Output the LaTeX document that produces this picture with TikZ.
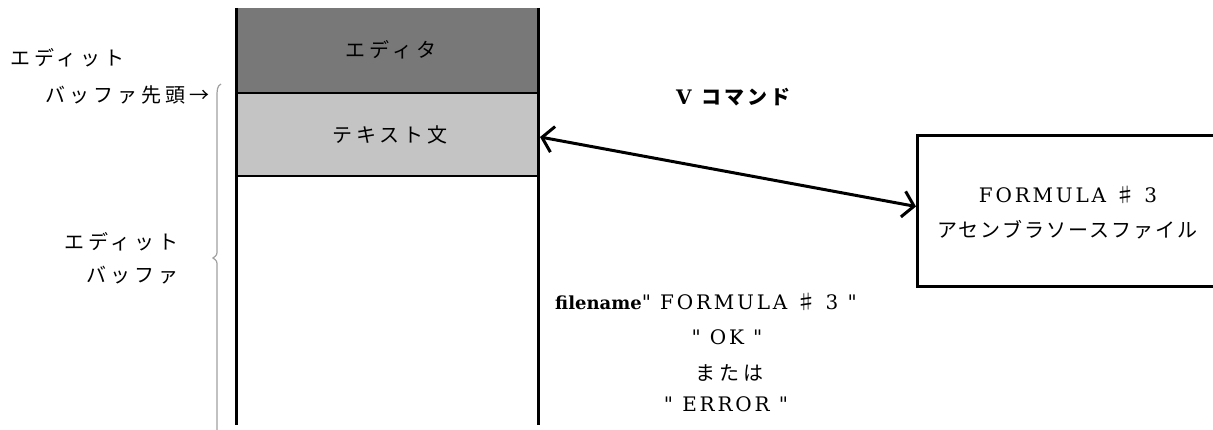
\documentclass[tikz,border=0pt]{standalone}
\usepackage{fontspec}
\setmainfont{DejaVu Serif}
\newfontfamily\jp[LetterSpace=20,BoldFont=* Bold]{Noto Sans CJK JP}
\newfontfamily\jpn[LetterSpace=10]{Noto Sans CJK JP}
\newfontfamily\jpb[LetterSpace=15]{Noto Sans CJK JP Bold}
\newfontfamily\lat[LetterSpace=14]{DejaVu Serif}
\usetikzlibrary{arrows.meta}
\definecolor{editgray}{HTML}{787878}
\definecolor{textgray}{HTML}{C4C4C4}
\definecolor{bracegray}{HTML}{A0A0A0}
\tikzset{
  jtext/.style={inner sep=0pt,font=\jp\fontsize{20}{22}\selectfont},
  ltext/.style={inner sep=0pt,font=\lat\fontsize{20}{24}\selectfont},
  wall/.style={line width=3pt},
  divider/.style={line width=2pt},
  biarrow/.style={line width=3pt,{Straight Barb[length=11pt,width=26pt]}-{Straight Barb[length=11pt,width=26pt]}},
  filebox/.style={draw,line width=3pt,minimum width=400pt,minimum height=151pt,inner sep=0pt}
}
\begin{document}
\begin{tikzpicture}[x=1pt,y=-1pt]
\useasboundingbox (0,0) rectangle (1213,430);
\clip (0,0) rectangle (1213,430);
% buffer column
\fill[editgray] (236,8) rectangle (538,93);
\fill[textgray] (236,93) rectangle (538,176);
\draw[divider] (236,93) -- (538,93);
\draw[divider] (236,176) -- (538,176);
\draw[wall] (236,8) -- (236,425);
\draw[wall] (538,8) -- (538,425);
\node[jtext] (editor) at (391,50) {エディタ};
\node[jtext] (text) at (390,135) {テキスト文};
% brace
\draw[bracegray,line width=1.2pt] (221,84) .. controls (217,86) and (217,90) .. (217,98)
  -- (217,250) .. controls (217,255) .. (213,258) .. controls (217,261) .. (217,266) -- (217,430);
% left labels
\node[jtext,anchor=west] (l1) at (10,58) {エディット};
\node[jtext,anchor=east] (l2) at (210,95) {バッファ先頭→};
\node[jtext,anchor=east] (l3) at (179,242) {エディット};
\node[jtext,anchor=east] (l4) at (179,275) {バッファ};
% V command
\node[inner sep=0pt,anchor=west] (vcmd) at (676,97) {\fontsize{20}{22}\selectfont\bfseries V\hspace{10pt}{\jpb コマンド}};
% file box
\node[filebox,anchor=west] (file) at (916,211.5) {};
\node[ltext] (fname) at (1068,195) {FORMULA {\jp ♯} 3};
\node[inner sep=0pt,font=\jpn\fontsize{20}{22}\selectfont] (fdesc) at (1067,230) {アセンブラソースファイル};
% arrow
\coordinate (tl) at (540,137);
\draw[biarrow] (tl) -- ([yshift=5pt]file.west);
% bottom text
\node[ltext,anchor=west] (b1) at (555,302) {{\normalfont\bfseries\fontsize{18}{22}\selectfont filename}" FORMULA {\jp ♯} 3 "};
\node[ltext] (b2) at (727,337) {" OK "};
\node[jtext] (b3) at (729,373) {または};
\node[ltext] (b4) at (726,404) {" ERROR "};
\end{tikzpicture}
\end{document}
